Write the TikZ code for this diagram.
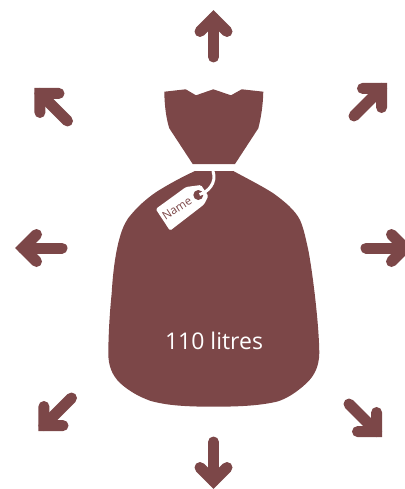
\documentclass[tikz,border=0pt]{standalone}
\usepackage{fontspec}
\setmainfont{Open Sans}
\usepackage{xcolor}
\definecolor{bagred}{HTML}{7C4748}
\tikzset{
  spreadarrow/.style={draw=bagred,line width=11pt,line cap=round,miter limit=10},
  bagshape/.style={fill=bagred},
  tagshape/.style={fill=white},
}
\begin{document}
\begin{tikzpicture}[x=1pt,y=-1pt]
  \useasboundingbox (0,0) rectangle (404,489);
  % arrows round the bag
  \foreach \tx/\ty/\ang in {213.5/57/0,354/116/-45,366/248/-90,349/404/-135,213.5/442/180,71.5/398/135,62/248/90,67.5/121/45}{
    \begin{scope}[shift={(\tx,\ty)},rotate=\ang]
      \draw[spreadarrow] (0,0)--(0,-39);
      \draw[spreadarrow] (-13.5,-25.5)--(0,-39)--(13.5,-25.5);
    \end{scope}}
  % neck
  \fill[bagshape] (164.3,91.7)--(185.7,89.3)--(196,95.3)--(213.3,89.3)--(231,95.3)--(241.7,89.3)--(263.3,91.7)
    .. controls (263,105) and (261,118) .. (258.3,128.3)--(235,164)--(192.7,164)--(169.3,128.3)
    .. controls (166,118) and (164.5,105) .. (164.3,91.7)--cycle;
  % body
  \fill[bagshape] (195,171)--(233.3,171)
    .. controls (248,179) and (262,186) .. (273.3,193.3)
    .. controls (284,201) and (295,210) .. (300,220)
    .. controls (304,229) and (306,240) .. (308.3,250)
    .. controls (313,275) and (319,325) .. (319.3,353)
    .. controls (319,366) and (315,375) .. (306.7,383)
    .. controls (296,393) and (286,399) .. (276.7,401.7)
    .. controls (262,405) and (245,406.7) .. (213.5,406.7)
    .. controls (182,406.7) and (165,405) .. (150,400.7)
    .. controls (140,397) and (130,392) .. (120,383)
    .. controls (112,375) and (108.3,366) .. (108.3,353)
    .. controls (108.5,330) and (110,310) .. (111.7,293)
    .. controls (113,270) and (116,250) .. (120,236.7)
    .. controls (122,229) and (125,223) .. (128.3,218)
    .. controls (137,207) and (146,199) .. (156.7,191.7)
    .. controls (169,184) and (182,177) .. (195,171)--cycle;
  % tag
  \fill[tagshape,rounded corners=1.5pt] (155.7,209)--(186,187)--(201,185)--(208.3,196)--(204,204.5)--(170,230.7)--cycle;
  \fill[bagred] (198.3,195) circle (5);
  \draw[white,line width=3pt] (199.5,194.5) .. controls (208,192) and (217,183) .. (213,171);
  \node[rotate=33,text=bagred,font=\fontsize{11.5}{13}\selectfont] (tagname) at (177,208.5) {Name};
  \node[text=white,font=\fontsize{23}{26}\selectfont] (volume) at (214,341) {110 litres};
\end{tikzpicture}
\end{document}
